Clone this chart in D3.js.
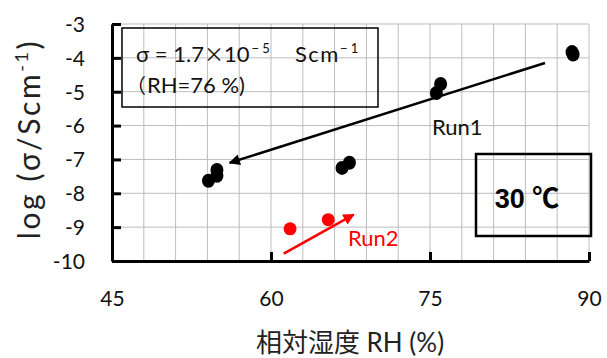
<!DOCTYPE html>
<html>
<head>
<meta charset="utf-8">
<script src="https://cdn.jsdelivr.net/npm/d3@7"></script>
<style>
  html, body { margin: 0; padding: 0; background: #fff; }
  svg { display: block; }
  text { font-family: Lato, "Noto Sans CJK JP", sans-serif; }
</style>
</head>
<body>
<svg id="chart" width="607" height="358"></svg>
<script>
// Conductivity vs relative humidity at 30 °C
const run1RH   = [54.1, 54.9, 54.9, 66.7, 67.4, 75.6, 76.0, 88.4, 88.5];
const run1LogS = [-7.63, -7.48, -7.31, -7.25, -7.10, -5.04, -4.77, -3.83, -3.90];
const run2RH   = [61.8, 65.4];
const run2LogS = [-9.05, -8.78];

// trend arrows [rhStart, logStart, rhEnd, logEnd]
const run1Arrow = [85.85, -4.15, 56.1, -7.10];
const run2Arrow = [61.2, -9.78, 67.8, -8.63];

const xTicks = [45, 60, 75, 90];
const xGrid  = d3.range(45, 91, 3);
const yTicks = [-3, -4, -5, -6, -7, -8, -9, -10];

const svg = d3.select("#chart");
const margin = { left: 112, right: 18, top: 24, bottom: 97 };
const W = 607, H = 358;

const x = d3.scaleLinear().domain([45, 90]).range([margin.left, W - margin.right]);
const y = d3.scaleLinear().domain([-10, -3]).range([H - margin.bottom, margin.top]);

// grid
const grid = svg.append("g").attr("stroke", "#bdbdbd").attr("stroke-width", 1);
grid.selectAll("line.v").data(xGrid).join("line")
  .attr("x1", d => x(d)).attr("x2", d => x(d))
  .attr("y1", y(-10)).attr("y2", y(-3));
grid.selectAll("line.h").data(yTicks).join("line")
  .attr("x1", x(45)).attr("x2", x(90))
  .attr("y1", d => y(d)).attr("y2", d => y(d));

// axes
const xAxis = svg.append("g").attr("transform", `translate(0,${y(-10)})`)
  .call(d3.axisBottom(x).tickValues(xTicks).tickSizeInner(-9).tickSizeOuter(0).tickPadding(30));
const yAxis = svg.append("g").attr("transform", `translate(${x(45)},0)`)
  .call(d3.axisLeft(y).tickValues(yTicks).tickSizeInner(-9).tickSizeOuter(0).tickPadding(27)
    .tickFormat(d => d3.format("d")(d).replace("−", "-")));
[xAxis, yAxis].forEach(a => {
  a.select(".domain").attr("stroke", "#000").attr("stroke-width", 3);
  a.selectAll(".tick line").attr("stroke", "#000").attr("stroke-width", 3);
  a.selectAll(".tick text").attr("fill", "#111").style("font-size", "21px")
    .style("font-family", "Lato, sans-serif");
});
yAxis.selectAll(".tick text").attr("dy", "0.35em");

// arrow markers
const defs = svg.append("defs");
function marker(id, color) {
  defs.append("marker").attr("id", id)
    .attr("viewBox", "0 0 10 10").attr("refX", 9).attr("refY", 5)
    .attr("markerWidth", 5.5).attr("markerHeight", 4.5).attr("orient", "auto")
    .attr("markerUnits", "strokeWidth")
    .append("path").attr("d", "M0,0 L10,5 L0,10 Z").attr("fill", color);
}
marker("arrowBlack", "#000");
marker("arrowRed", "#ff0000");

svg.append("line")
  .attr("x1", x(run1Arrow[0])).attr("y1", y(run1Arrow[1]))
  .attr("x2", x(run1Arrow[2])).attr("y2", y(run1Arrow[3]))
  .attr("stroke", "#000").attr("stroke-width", 2.5).attr("marker-end", "url(#arrowBlack)");
svg.append("line")
  .attr("x1", x(run2Arrow[0])).attr("y1", y(run2Arrow[1]))
  .attr("x2", x(run2Arrow[2])).attr("y2", y(run2Arrow[3]))
  .attr("stroke", "#ff0000").attr("stroke-width", 2.5).attr("marker-end", "url(#arrowRed)");

// points
svg.append("g").selectAll("ellipse").data(run1RH).join("ellipse")
  .attr("cx", (d, i) => x(d)).attr("cy", (d, i) => y(run1LogS[i]))
  .attr("rx", 6.5).attr("ry", 7).attr("fill", "#000");
svg.append("g").selectAll("circle").data(run2RH).join("circle")
  .attr("cx", (d, i) => x(d)).attr("cy", (d, i) => y(run2LogS[i]))
  .attr("r", 6.5).attr("fill", "#ff0000");

// series labels
svg.append("text").attr("x", 432).attr("y", 135).attr("fill", "#111")
  .style("font-size", "22px").text("Run1");
svg.append("text").attr("x", 348).attr("y", 246).attr("fill", "#ff0000")
  .style("font-size", "22px").text("Run2");

// conductivity note box (outline only, grid shows through)
svg.append("rect").attr("x", 122).attr("y", 28).attr("width", 256).attr("height", 79)
  .attr("fill", "none").attr("stroke", "#000").attr("stroke-width", 1.5);
const t1 = svg.append("text").attr("x", 136).attr("y", 62).attr("fill", "#111").style("font-size", "22px");
t1.append("tspan").text("σ = 1.7");
t1.append("tspan").style("font-family", "'Noto Sans CJK JP'").style("font-size", "20px").text("×");
t1.append("tspan").text("10");
t1.append("tspan").attr("dx", 2).attr("dy", -9).style("font-size", "13px").text("− 5");
t1.append("tspan").attr("x", 295).attr("dy", 9).style("letter-spacing", "1.5px").text("Scm");
t1.append("tspan").attr("dy", -9).style("font-size", "13px").text("− 1");
const t2 = svg.append("text").attr("y", 93).attr("fill", "#111").style("font-size", "22px");
t2.append("tspan").attr("x", 126).style("font-family", "'Noto Sans CJK JP'").style("font-size", "20px").text("（");
t2.append("tspan").attr("x", 147).text("RH=76 %)");

// temperature box
svg.append("rect").attr("x", 476).attr("y", 154).attr("width", 115).attr("height", 82)
  .attr("fill", "none").attr("stroke", "#000").attr("stroke-width", 2.5);
svg.append("text").attr("x", 527).attr("y", 208).attr("text-anchor", "middle")
  .attr("fill", "#000").style("font-size", "27px").style("font-weight", "bold")
  .style("font-family", "'Liberation Sans Narrow', 'Liberation Sans', 'Noto Sans CJK JP', sans-serif")
  .text("30  ℃");

// axis titles
svg.append("text").attr("x", 350).attr("y", 352).attr("text-anchor", "middle")
  .attr("fill", "#222").style("font-size", "26px").text("相対湿度 RH (%)");
const yt = svg.append("text").attr("transform", "translate(40,139) rotate(-90)")
  .attr("text-anchor", "middle").attr("fill", "#222").style("font-size", "30px")
  .style("letter-spacing", "2.6px");
yt.append("tspan").text("log (σ/Scm");
yt.append("tspan").attr("dy", -12).style("font-size", "18px").text("-1");
yt.append("tspan").attr("dy", 12).text(")");
</script>
</body>
</html>
